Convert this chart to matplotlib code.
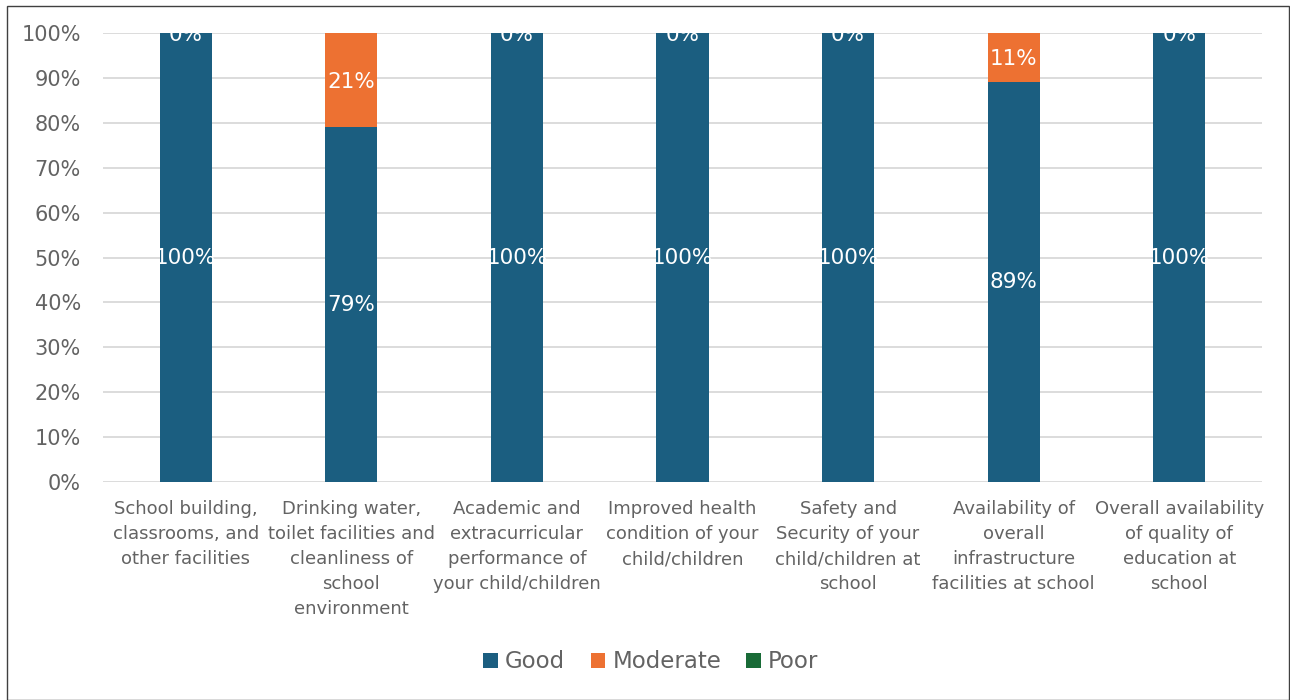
import matplotlib
matplotlib.use("Agg")
import matplotlib.pyplot as plt
import numpy as np
from matplotlib.patches import Rectangle

categories = [
    "School building,\nclassrooms, and\nother facilities",
    "Drinking water,\ntoilet facilities and\ncleanliness of\nschool\nenvironment",
    "Academic and\nextracurricular\nperformance of\nyour child/children",
    "Improved health\ncondition of your\nchild/children",
    "Safety and\nSecurity of your\nchild/children at\nschool",
    "Availability of\noverall\ninfrastructure\nfacilities at school",
    "Overall availability\nof quality of\neducation at\nschool",
]
good = [100, 79, 100, 100, 100, 89, 100]
moderate = [0, 21, 0, 0, 0, 11, 0]
poor = [0, 0, 0, 0, 0, 0, 0]
series_names = ["Good", "Moderate", "Poor"]
colors = ["#1B5E80", "#ED7132", "#196B37"]
yticks = list(range(0, 101, 10))

plt.rcParams['font.family'] = ['DejaVu Sans']
fig = plt.figure(figsize=(12.9, 7.0), dpi=100)
ax = fig.add_axes([103/1290, 1 - 482/700, (1262-103)/1290, (482-33)/700])

x = np.arange(len(categories))
w = 0.315
b1 = ax.bar(x, good, w, color=colors[0], label=series_names[0], zorder=3)
b2 = ax.bar(x, moderate, w, bottom=good, color=colors[1], label=series_names[1], zorder=3)
b3 = ax.bar(x, poor, w, bottom=np.array(good) + np.array(moderate), color=colors[2], label=series_names[2], zorder=3)

for i in range(len(categories)):
    ax.text(x[i], good[i] / 2, f"{good[i]}%", ha="center", va="center",
            color="white", fontsize=15.5, zorder=4)
    ax.text(x[i], good[i] + moderate[i] / 2 - 0.4, f"{moderate[i]}%", ha="center", va="center",
            color="white", fontsize=15.5, zorder=4, clip_on=True)

ax.set_xlim(-0.5, len(categories) - 0.5)
ax.set_ylim(0, 100)
ax.set_yticks(yticks)
ax.set_yticklabels([f"{t}%" for t in yticks])
ax.set_xticks(x)
ax.set_xticklabels(categories, linespacing=1.5)
ax.tick_params(axis="x", length=0, labelsize=13, colors="#636363", pad=13)
ax.tick_params(axis="y", length=0, labelsize=15, colors="#636363", pad=16)
ax.grid(axis="y", color="#D9D9D9", linewidth=1.3, zorder=0)
for s in ax.spines.values():
    s.set_visible(False)

leg = fig.legend(handles=[b1, b2, b3], labels=series_names, loc="center",
                 bbox_to_anchor=(651/1290, 1 - 662/700), ncol=3, frameon=False,
                 fontsize=16.5, handlelength=0.65, handleheight=0.65, handletextpad=0.3,
                 columnspacing=1.1, labelcolor="#636363")

fig.patches.append(Rectangle((7/1290, 0), (1289-7)/1290, 1 - 6/700, transform=fig.transFigure,
                             fill=False, edgecolor="#404040", linewidth=1.0))

fig.savefig("out.png", dpi=100)
